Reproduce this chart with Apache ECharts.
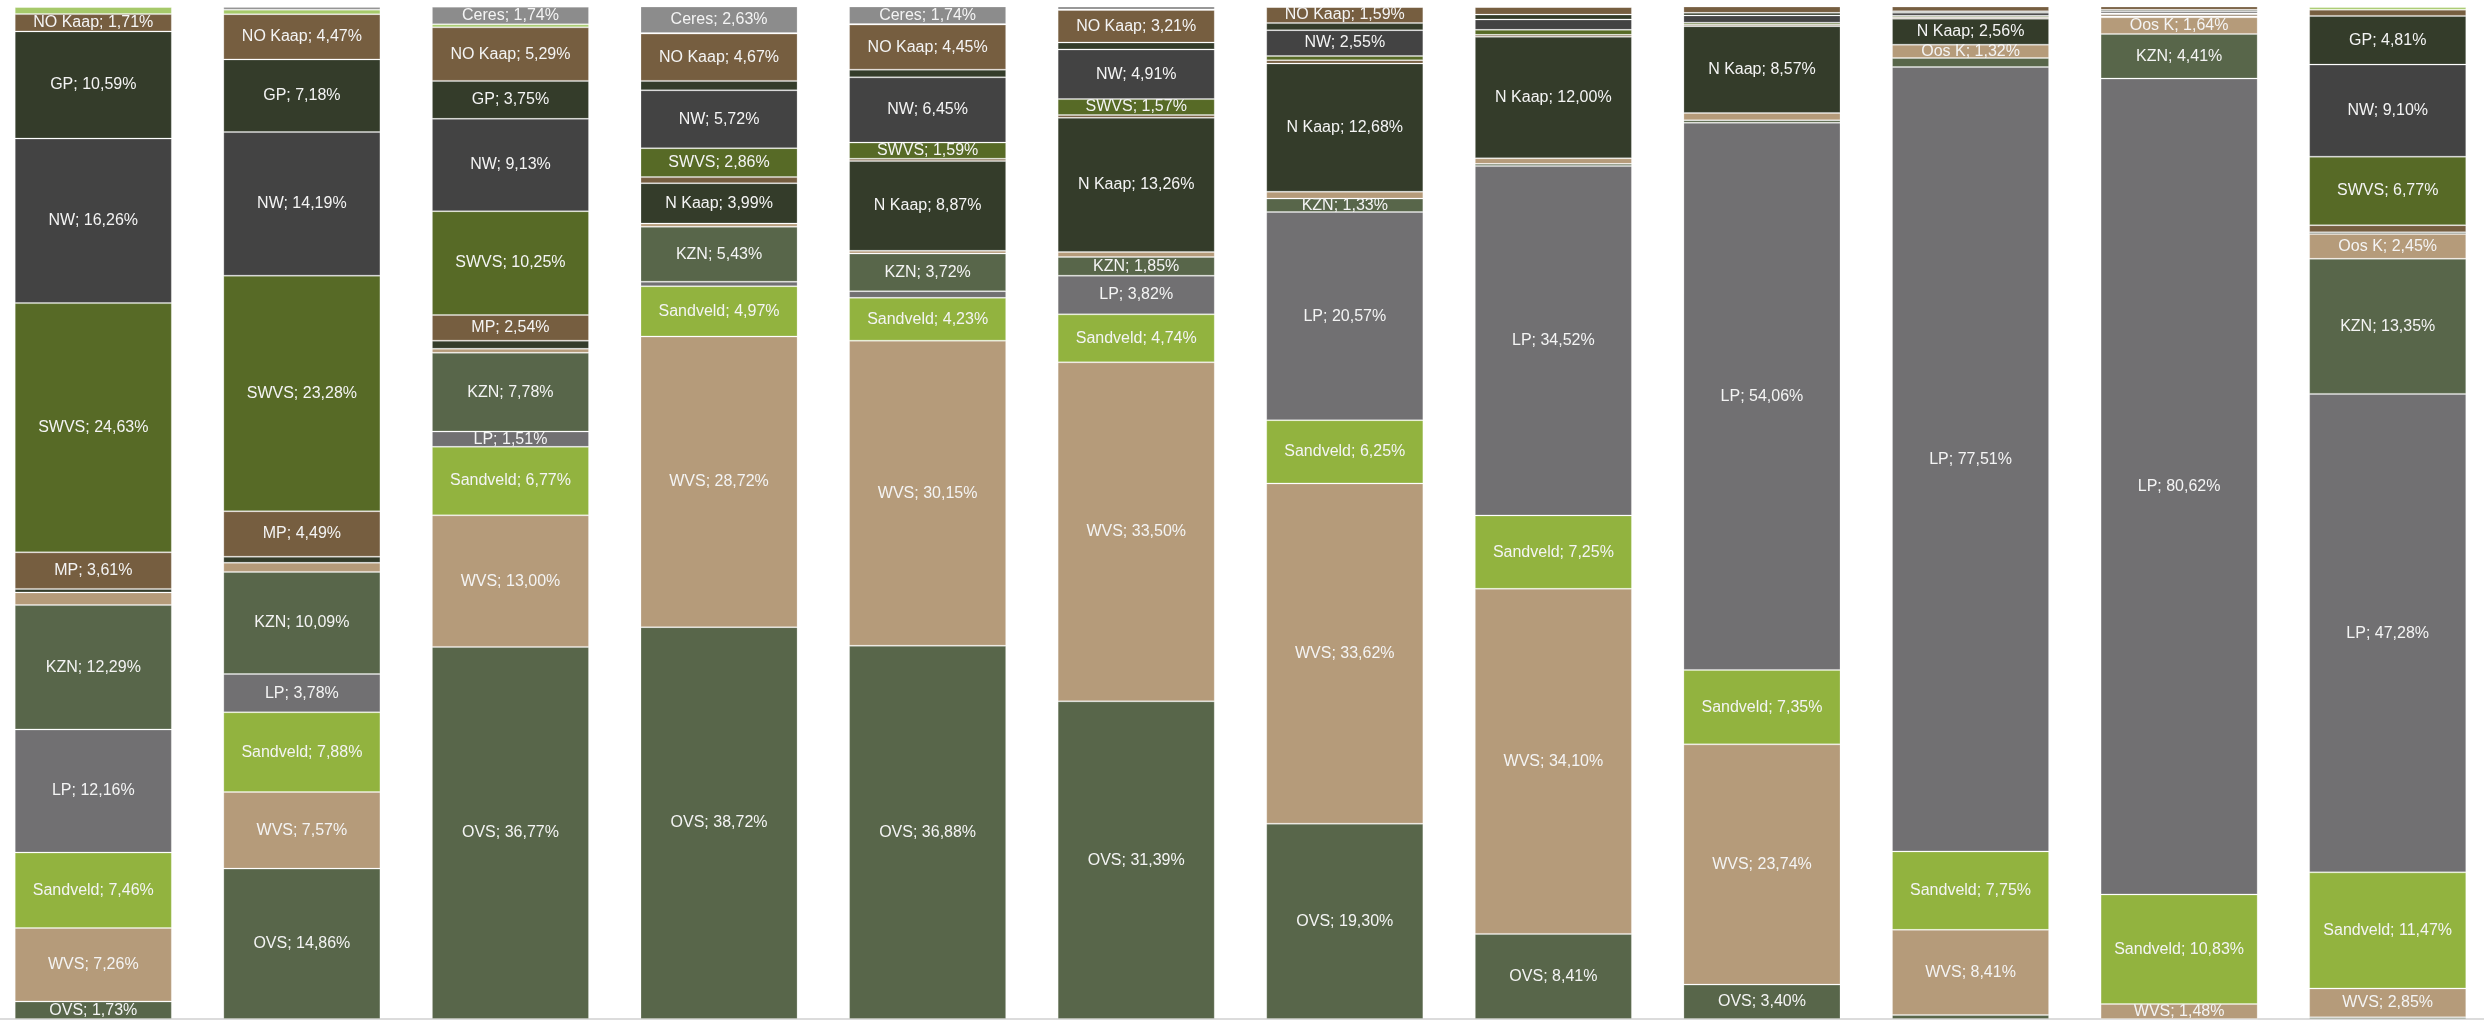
<!DOCTYPE html>
<html>
<head>
<meta charset="utf-8">
<script src="https://cdn.jsdelivr.net/npm/echarts@6/dist/echarts.min.js"></script>
<style>
  html, body { margin: 0; padding: 0; background: #fff; overflow: hidden; }
  /* chart is a bit wider than the window so the outer category gaps fall off-screen */
  #chart { position: absolute; left: -11px; top: 0; width: 2503px; height: 1031px; }
</style>
</head>
<body>
<div id="chart"></div>
<script>
// twelve columns, no visible axis labels
const categories = ['1', '2', '3', '4', '5', '6', '7', '8', '9', '10', '11', '12']

// stacked bottom -> top
const seriesNames = ['OVS', 'WVS', 'Sandveld', 'LP', 'KZN', 'Oos K', 'N Kaap', 'MP', 'SWVS', 'NW', 'GP', 'NO Kaap', 'Ander', 'Ceres']

const ovs      = [1.73, 14.86, 36.77, 38.72, 36.88, 31.39, 19.30, 8.41, 3.40, 0.40, 0, 0.17]
const wvs      = [7.26, 7.57, 13.00, 28.72, 30.15, 33.50, 33.62, 34.10, 23.74, 8.41, 1.48, 2.85]
const sandveld = [7.46, 7.88, 6.77, 4.97, 4.23, 4.74, 6.25, 7.25, 7.35, 7.75, 10.83, 11.47]
const lp       = [12.16, 3.78, 1.51, 0.44, 0.66, 3.82, 20.57, 34.52, 54.06, 77.51, 80.62, 47.28]
const kzn      = [12.29, 10.09, 7.78, 5.43, 3.72, 1.85, 1.33, 0.22, 0.26, 0.89, 4.41, 13.35]
const oosK     = [1.25, 0.90, 0.40, 0.32, 0.27, 0.49, 0.67, 0.55, 0.72, 1.32, 1.64, 2.45]
const nKaap    = [0.35, 0.60, 0.80, 3.99, 8.87, 13.26, 12.68, 12.00, 8.57, 2.56, 0.10, 0.17]
const mp       = [3.61, 4.49, 2.54, 0.60, 0.23, 0.28, 0.32, 0.20, 0.15, 0.15, 0.20, 0.70]
const swvs     = [24.63, 23.28, 10.25, 2.86, 1.59, 1.57, 0.42, 0.49, 0.20, 0.15, 0.10, 6.77]
const nw       = [16.26, 14.19, 9.13, 5.72, 6.45, 4.91, 2.55, 1.03, 0.72, 0.30, 0.20, 9.10]
const gp       = [10.59, 7.18, 3.75, 0.93, 0.76, 0.68, 0.70, 0.48, 0.25, 0.15, 0.15, 4.81]
const noKaap   = [1.71, 4.47, 5.29, 4.67, 4.45, 3.21, 1.59, 0.75, 0.66, 0.50, 0.35, 0.62]
const ander    = [0.70, 0.45, 0.30, 0.05, 0.05, 0.05, 0, 0, 0, 0, 0, 0.26]
const ceres    = [0, 0.27, 1.74, 2.63, 1.74, 0.30, 0, 0, 0, 0, 0, 0]

const seriesData = [ovs, wvs, sandveld, lp, kzn, oosK, nKaap, mp, swvs, nw, gp, noKaap, ander, ceres]

const colors = {
  'OVS': '#58664a',
  'WVS': '#b59b7a',
  'Sandveld': '#92b33f',
  'LP': '#717072',
  'KZN': '#58664a',
  'Oos K': '#b59b7a',
  'N Kaap': '#343c2a',
  'MP': '#765e40',
  'SWVS': '#576a26',
  'NW': '#434343',
  'GP': '#343c2a',
  'NO Kaap': '#765e40',
  'Ander': '#a6c96a',
  'Ceres': '#8c8c8c',
}

const chart = echarts.init(document.getElementById('chart'))

chart.setOption({
  backgroundColor: '#ffffff',
  animation: false,
  grid: { left: 0, right: 0, top: 7, bottom: 12 },
  xAxis: {
    type: 'category',
    data: categories,
    axisLine: { show: true, lineStyle: { color: '#dcdcdc', width: 2 } },
    axisTick: { show: false },
    axisLabel: { show: false },
  },
  yAxis: {
    type: 'value',
    min: 0,
    max: 100,
    show: false,
    splitLine: { show: false },
  },
  series: seriesNames.map((name, i) => ({
    name,
    type: 'bar',
    stack: 'total',
    barCategoryGap: '24.7%',
    data: seriesData[i],
    itemStyle: {
      color: colors[name],
      borderColor: 'rgba(255,255,255,0.22)',
      borderWidth: 1,
    },
    label: {
      show: true,
      position: 'inside',
      color: '#f4f4f4',
      fontSize: 16,
      fontFamily: '"Liberation Sans", Arial, sans-serif',
      formatter: (p) => (p.value >= 1.3 ? `${name}; ${p.value.toFixed(2).replace('.', ',')}%` : ''),
    },
  })),
})
</script>
</body>
</html>
